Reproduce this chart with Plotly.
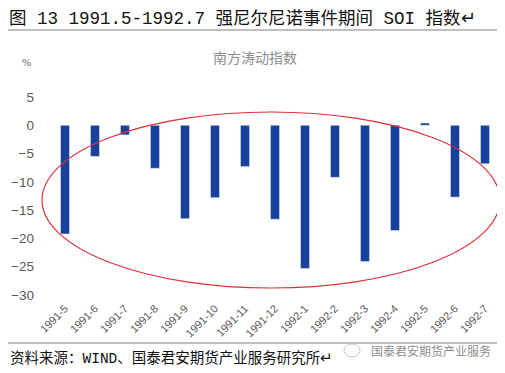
import plotly.graph_objects as go

categories = ["1991-5", "1991-6", "1991-7", "1991-8", "1991-9", "1991-10", "1991-11",
              "1991-12", "1992-1", "1992-2", "1992-3", "1992-4", "1992-5", "1992-6", "1992-7"]
soi_values = [-19.2, -5.5, -1.7, -7.6, -16.5, -12.8, -7.3, -16.6, -25.3, -9.2, -24.1,
              -18.6, 0.4, -12.7, -6.8]
y_ticks = [5, 0, -5, -10, -15, -20, -25, -30]

# the page has an 8px body margin: design in screen pixels, shift by OFF
OFF = 8
W, H = 505 - OFF, 373 - OFF
PL, PR, PT, PB = 50, 500, 97, 295          # plot area in screen pixels
L, R, T, B = PL - OFF, W - (PR - OFF), PT - OFF, H - (PB - OFF)
PW, PH = W - L - R, H - T - B


def px(x):
    return (x - OFF - L) / PW


def py(y):
    return (H - B - (y - OFF)) / PH


fig = go.Figure()
fig.add_trace(go.Bar(x=categories, y=soi_values, marker_color="#17419A",
                     width=0.3, hoverinfo="x+y"))

zero_pos = py(125)

fig.update_layout(
    width=W, height=H,
    margin=dict(l=L, r=R, t=T, b=B, autoexpand=False),
    paper_bgcolor="white", plot_bgcolor="white",
    showlegend=False,
    font=dict(family="Arial, Liberation Sans, sans-serif", color="#595959"),
    xaxis=dict(type="category", tickangle=-45, tickfont=dict(size=11, color="#595959"),
               showline=False, ticks="", showgrid=False, zeroline=False, automargin=False,
               ticklabelstandoff=4, range=[-0.5, len(categories) - 0.5]),
    xaxis2=dict(overlaying="x", anchor="free", position=zero_pos, side="top",
                range=[-0.5, len(categories) - 0.5], showline=True, linecolor="#D9D9D9",
                linewidth=1, ticks="outside", tickcolor="#D9D9D9", ticklen=3,
                tickvals=[i - 0.5 for i in range(len(categories) + 1)], automargin=False,
                showticklabels=False, showgrid=False, zeroline=False),
    yaxis=dict(range=[-30, 5], tickvals=y_ticks, showgrid=False, zeroline=False,
               showline=False, ticks="", automargin=False, ticklabelstandoff=15,
               tickfont=dict(size=13.5, color="#595959")),
)

# red ellipse highlight
fig.add_shape(type="circle", xref="paper", yref="paper",
              x0=px(42), x1=px(500), y0=py(288), y1=py(112),
              line=dict(color="#E0303A", width=1.2))

# header rule lines
for yy in (30, 343):
    fig.add_shape(type="line", xref="paper", yref="paper",
                  x0=px(8), x1=px(500), y0=py(yy), y1=py(yy),
                  line=dict(color="#7F7F7F", width=1))

cjk = "Liberation Mono, Noto Sans CJK SC, sans-serif"
fig.add_annotation(text="图 13 1991.5-1992.7 强尼尔尼诺事件期间 SOI 指数↵",
                   xref="paper", yref="paper", x=px(8), y=py(8),
                   xanchor="left", yanchor="top", showarrow=False, borderpad=0,
                   font=dict(family=cjk, size=17.5, color="#111111"))
fig.add_annotation(text="南方涛动指数", xref="paper", yref="paper",
                   x=px(255), y=py(57), xanchor="center", yanchor="middle",
                   showarrow=False,
                   font=dict(family="Noto Sans CJK SC", size=14, color="#8C8C8C"))
fig.add_annotation(text="%", xref="paper", yref="paper", x=px(26), y=py(62),
                   xanchor="center", yanchor="middle", showarrow=False,
                   font=dict(family="Liberation Serif", size=11, color="#595959"))
fig.add_annotation(text="资料来源：WIND、国泰君安期货产业服务研究所↵",
                   xref="paper", yref="paper", x=px(8), y=py(358),
                   xanchor="left", yanchor="middle", showarrow=False,
                   font=dict(family=cjk, size=14.5, color="#111111"))
fig.add_annotation(text="国泰君安期货产业服务", xref="paper", yref="paper",
                   x=px(369), y=py(350), xanchor="left", yanchor="middle",
                   showarrow=False,
                   font=dict(family="Noto Sans CJK SC", size=12, color="#8C8C8C"))
fig.add_shape(type="circle", xref="paper", yref="paper",
              x0=px(344), x1=px(360), y0=py(357), y1=py(344),
              line=dict(color="#C8C8C8", width=1))

fig.write_html("out.html")
